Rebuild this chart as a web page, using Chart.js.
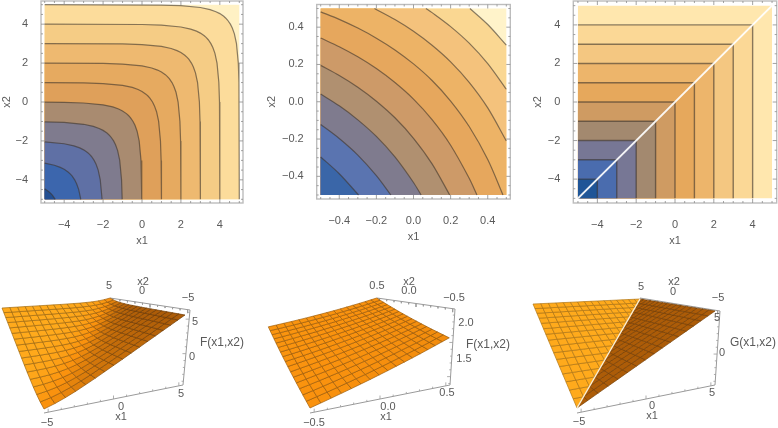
<!DOCTYPE html>
<html><head><meta charset="utf-8">
<style>
html,body{margin:0;padding:0;background:#fff;width:778px;height:428px;overflow:hidden}
canvas{position:absolute;filter:blur(0.45px)}
</style>
<script src="https://cdn.jsdelivr.net/npm/chart.js@4/dist/chart.umd.js"></script>
</head><body>
<script>
// ---------- Contour panel 1: F(x1,x2) on [-5,5]; each list holds x1 values, x2 runs through the same list backwards
const f1Level5 = [-5,1,2,3,3.5,3.8,4,4.2,4.307,4.404,4.541,4.64,4.748,4.855,4.949,4.982,5];
const f1Level4 = [-5,0,1,2,2.5,2.8,3,3.2,3.307,3.404,3.541,3.64,3.748,3.855,3.949,3.982,4];
const f1Level3 = [-5,-1,0,1,1.5,1.8,2,2.2,2.307,2.404,2.541,2.64,2.748,2.855,2.949,2.982,3];
const f1Level2 = [-5,-2,-1,0,.5,.8,1,1.2,1.307,1.404,1.541,1.64,1.748,1.855,1.949,1.982,2];
const f1Level1 = [-5,-3,-2,-1,-.5,-.2,0,.2,.307,.404,.541,.64,.748,.855,.949,.982,1];
const f1Level0 = [-5,-4,-3,-2,-1.5,-1.2,-1,-.8,-.693,-.596,-.459,-.36,-.252,-.145,-.051,-.018,-.007];
const f1LevelM1 = [-5,-4,-3,-2.5,-2.2,-2,-1.8,-1.693,-1.596,-1.459,-1.36,-1.252,-1.145,-1.051,-1.018];
const f1LevelM2 = [-5,-4,-3.5,-3.2,-3,-2.8,-2.693,-2.596,-2.459,-2.36,-2.252,-2.145,-2.051];
const f1LevelM3 = [-5,-4.5,-4.2,-4,-3.8,-3.693,-3.596,-3.459,-3.36,-3.252,-3.145];
const f1LevelM4 = [-5,-4.8,-4.693,-4.596,-4.459];
// ---------- Contour panel 2: F(x1,x2) on [-0.5,0.5]
const f2C1 = [[-.5,-.296],[-.4,-.386],[-.296,-.5]];
const f2C2 = [[-.5,-.122],[-.4,-.197],[-.3,-.286],[-.2,-.396],[-.122,-.5]];
const f2C3 = [[-.5,.041],[-.4,-.022],[-.3,-.097],[-.2,-.186],[-.1,-.296],[0,-.433],[.041,-.5]];
const f2C4 = [[-.5,.195],[-.4,.141],[-.3,.078],[-.2,.003],[-.1,-.086],[0,-.196],[.1,-.333],[.195,-.5]];
const f2C5 = [[-.5,.342],[-.4,.295],[-.3,.241],[-.2,.178],[-.1,.103],[0,.014],[.1,-.096],[.2,-.233],[.3,-.41],[.342,-.5]];
const f2C6 = [[-.5,.482],[-.4,.442],[-.3,.395],[-.2,.341],[-.1,.278],[0,.203],[.1,.114],[.2,.004],[.3,-.133],[.4,-.31],[.482,-.5]];
const f2C7 = [[-.21,.5],[-.1,.441],[0,.378],[.1,.303],[.2,.214],[.3,.104],[.4,-.033],[.5,-.21]];
const f2C8 = [[.067,.5],[.1,.478],[.2,.403],[.3,.314],[.4,.204],[.5,.067]];
const f2C9 = [[.304,.5],[.4,.414],[.5,.304]];
// ---------- Contour panel 3: G(x1,x2), corner of each level line on the diagonal
const gContourLevels = [4,3,2,1,0,-1,-2,-3,-4];
// ---------- Tick labels
const ticksWide = [-4,-2,0,2,4];
const ticksNarrow = [-.4,-.2,0,.2,.4];
const minorWide = [-5,-4.5,-4,-3.5,-3,-2.5,-2,-1.5,-1,-.5,0,.5,1,1.5,2,2.5,3,3.5,4,4.5,5];
const minorNarrow = [-.5,-.45,-.4,-.35,-.3,-.25,-.2,-.15,-.1,-.05,0,.05,.1,.15,.2,.25,.3,.35,.4,.45,.5];
// ---------- Surface grids
const gridWide = [-5,-4.375,-3.75,-3.125,-2.5,-1.875,-1.25,-.625,0,.625,1.25,1.875,2.5,3.125,3.75,4.375,5];
const gridNarrow = [-.5,-.4375,-.375,-.3125,-.25,-.1875,-.125,-.0625,0,.0625,.125,.1875,.25,.3125,.375,.4375,.5];
// Heights: row = grid index of the larger of x1,x2; column = grid index of the smaller
const surfaceF1 = [
[-3.31],
[-2.95,-2.69],
[-2.5,-2.32,-2.06],
[-1.99,-1.88,-1.7,-1.44],
[-1.42,-1.36,-1.25,-1.07,-.81],
[-.84,-.8,-.74,-.63,-.45,-.19],
[-.23,-.21,-.17,-.11,0,.18,.44],
[.39,.4,.42,.46,.52,.63,.81,1.07],
[1,1.01,1.02,1.04,1.08,1.14,1.25,1.43,1.69],
[1.63,1.63,1.64,1.65,1.67,1.71,1.77,1.88,2.06,2.32],
[2.25,2.25,2.25,2.26,2.27,2.29,2.33,2.39,2.5,2.68,2.94],
[2.88,2.88,2.88,2.88,2.89,2.9,2.92,2.96,3.02,3.13,3.31,3.57],
[3.5,3.5,3.5,3.5,3.5,3.51,3.52,3.54,3.58,3.64,3.75,3.93,4.19],
[4.13,4.13,4.13,4.13,4.13,4.13,4.14,4.15,4.17,4.21,4.27,4.38,4.56,4.82],
[4.75,4.75,4.75,4.75,4.75,4.75,4.75,4.76,4.77,4.79,4.83,4.89,5,5.18,5.44],
[5.38,5.38,5.38,5.38,5.38,5.38,5.38,5.38,5.39,5.4,5.42,5.46,5.52,5.63,5.81,6.07],
[6,6,6,6,6,6,6,6,6,6.01,6.02,6.04,6.08,6.14,6.25,6.43,6.69]];
const surfaceF2 = [
[1.193],
[1.225,1.256],
[1.258,1.287,1.318],
[1.292,1.32,1.35,1.381],
[1.326,1.354,1.383,1.412,1.443],
[1.362,1.389,1.417,1.446,1.475,1.506],
[1.398,1.424,1.451,1.479,1.508,1.537,1.568],
[1.436,1.461,1.487,1.514,1.542,1.571,1.6,1.631],
[1.474,1.498,1.523,1.549,1.576,1.604,1.633,1.662,1.693],
[1.514,1.537,1.561,1.586,1.612,1.639,1.667,1.696,1.725,1.756],
[1.554,1.576,1.599,1.623,1.648,1.674,1.701,1.729,1.758,1.787,1.818],
[1.595,1.617,1.639,1.662,1.686,1.711,1.737,1.764,1.792,1.821,1.85,1.881],
[1.637,1.657,1.679,1.701,1.724,1.748,1.773,1.799,1.826,1.854,1.883,1.912,1.943],
[1.68,1.7,1.72,1.742,1.764,1.787,1.811,1.836,1.862,1.889,1.917,1.946,1.975,2.006],
[1.724,1.742,1.762,1.782,1.804,1.826,1.849,1.873,1.898,1.924,1.951,1.979,2.008,2.037,2.068],
[1.769,1.787,1.805,1.825,1.845,1.867,1.889,1.912,1.936,1.961,1.987,2.014,2.042,2.071,2.1,2.131],
[1.813,1.831,1.849,1.867,1.887,1.907,1.929,1.951,1.974,1.998,2.023,2.049,2.076,2.104,2.133,2.162,2.193]];
const surfaceG = [-5,-4.375,-3.75,-3.125,-2.5,-1.875,-1.25,-.625,0,.625,1.25,1.875,2.5,3.125,3.75,4.375,5];

// ---------- Styling
const FONT = '"Liberation Sans", Arial, sans-serif';
const TEXT = '#5a5a5a';
const LINE = 'rgba(60,52,44,.6)';
const bandsF1 = ['#fff1c4','#fcdc9b','#f5cc85','#eeb970','#e6aa60','#dfa05a','#a98b70','#7f7b8e','#5f70a5','#3c66ad','#234f93'];
const bandsF2 = ['#fff3ca','#fad792','#f4c27c','#edb366','#e6a75d','#cd9a68','#b09070','#7f7b8e','#5a74b0','#3a66a8'];
const bandsG  = ['#ffe7ae','#fbd896','#f4c781','#edb56b','#e6a85c','#cf9b62','#a3896f','#777795','#4a6cae','#1f5597'];
const minusFmt = v => String(v).replace('-', '\u2212');

const pts = a => a.map(p => ({x:p[0], y:p[1]}));
const mirrored = xs => xs.map((x,i) => ({x, y:xs[xs.length-1-i]}));
const fillSet = (data,color) => ({data, showLine:true, fill:'shape', backgroundColor:color, borderWidth:0, pointRadius:0, tension:0});
const lineSet = (data,color,w,t) => ({data, showLine:true, fill:false, borderColor:color, borderWidth:w, pointRadius:0, tension:t||0});

const framePlugin = {
  id:'frameMarks',
  afterDatasetsDraw(ch){
    const o = ch.options.plugins.frameMarks, a = ch.chartArea, c = ch.ctx, sx = ch.scales.x, sy = ch.scales.y;
    c.save();
    c.strokeStyle = '#bdbdbd'; c.lineWidth = 1.4;
    c.strokeRect(a.left,a.top,a.right-a.left,a.bottom-a.top);
    c.strokeStyle = '#8c8c8c'; c.lineWidth = .8;
    const isMajor = v => o.major.some(m => Math.abs(m-v) < 1e-6);
    c.beginPath();
    o.minor.forEach(v=>{
      const L = isMajor(v) ? 4 : 2, px = sx.getPixelForValue(v), py = sy.getPixelForValue(v);
      c.moveTo(px,a.bottom); c.lineTo(px,a.bottom-L);
      c.moveTo(px,a.top); c.lineTo(px,a.top+L);
      c.moveTo(a.left,py); c.lineTo(a.left+L,py);
      c.moveTo(a.right,py); c.lineTo(a.right-L,py);
    });
    c.stroke(); c.restore();
  }
};

function makeCanvas(left,top,w,h){
  const cv = document.createElement('canvas');
  cv.width = w; cv.height = h;
  cv.style.left = left+'px'; cv.style.top = top+'px';
  cv.style.width = w+'px'; cv.style.height = h+'px';
  document.body.appendChild(cv);
  return cv;
}

function contourChart(cfg){
  const cv = makeCanvas(cfg.left,0,cfg.w,cfg.h);
  const axisBase = (vals,fmt,title,isX) => ({
    type:'linear', min:-cfg.pad, max:cfg.pad,
    grid:{display:false}, border:{display:false},
    afterBuildTicks(ax){ ax.ticks = vals.map(v=>({value:v})); },
    afterFit(ax){
      if(isX) ax.height = cfg.h-cfg.frame.bottom; else ax.width = cfg.frame.left-cfg.left;
      ax.paddingTop = 0; ax.paddingBottom = 0; ax.paddingLeft = 0; ax.paddingRight = 0;
    },
    ticks:{autoSkip:false,maxRotation:0,color:TEXT,font:{family:FONT,size:11},padding:isX?7:5,callback:fmt},
    title:{display:true,text:title,color:TEXT,font:{family:FONT,size:11},padding:isX?{top:0,bottom:2.5}:{top:0,bottom:0}}
  });
  new Chart(cv,{
    type:'scatter',
    data:{datasets:cfg.sets.slice().reverse()},
    options:{
      responsive:false,animation:false,events:[],
      layout:{padding:{top:cfg.frame.top,right:cfg.left+cfg.w-cfg.frame.right,left:0,bottom:0}},
      plugins:{legend:{display:false},tooltip:{enabled:false},frameMarks:{major:cfg.major,minor:cfg.minor}},
      scales:{x:axisBase(cfg.major,cfg.fmt,'x1',true),y:axisBase(cfg.major,cfg.fmt,'x2',false)}
    },
    plugins:[framePlugin]
  });
}

// --- panel 1
(function(){
  const levels = [f1Level5,f1Level4,f1Level3,f1Level2,f1Level1,f1Level0,f1LevelM1,f1LevelM2,f1LevelM3,f1LevelM4].map(mirrored);
  const sets = [fillSet(pts([[-5,-5],[-5,5],[5,5],[5,-5]]),bandsF1[0])];
  levels.forEach((l,i)=>sets.push(fillSet(l.concat([{x:-5,y:-5}]),bandsF1[i+1])));
  levels.forEach(l=>sets.push(lineSet(l,LINE,1.2)));
  contourChart({left:0,w:258,h:250,pad:5.19,frame:{left:41,right:243,top:1,bottom:203},major:ticksWide,minor:minorWide,fmt:minusFmt,sets});
})();
// --- panel 2
(function(){
  const lines = [f2C9,f2C8,f2C7,f2C6,f2C5,f2C4,f2C3,f2C2,f2C1].map(pts);
  const sets = [fillSet(pts([[-.5,-.5],[-.5,.5],[.5,.5],[.5,-.5]]),bandsF2[0])];
  lines.forEach((l,i)=>{
    const close = i<3 ? pts([[.5,-.5],[-.5,-.5],[-.5,.5]]) : pts([[-.5,-.5]]);
    sets.push(fillSet(l.concat(close),bandsF2[i+1]));
  });
  lines.forEach(l=>sets.push(lineSet(l,LINE,1.2,.3)));
  contourChart({left:265,w:255,h:246,pad:.5215,frame:{left:316.7,right:510.3,top:4.5,bottom:199},major:ticksNarrow,minor:minorNarrow,fmt:v=>minusFmt(v.toFixed(1)),sets});
})();
// --- panel 3
(function(){
  const lines = gContourLevels.map(c=>pts([[-5,c],[c,c],[c,-5]]));
  const sets = [fillSet(pts([[-5,-5],[-5,5],[5,5],[5,-5]]),bandsG[0])];
  lines.forEach((l,i)=>sets.push(fillSet(l.concat([{x:-5,y:-5}]),bandsG[i+1])));
  lines.forEach(l=>sets.push(lineSet(l,LINE,1.4)));
  sets.push(lineSet(pts([[-5,-5],[5,5]]),'rgba(255,255,255,.92)',2));
  contourChart({left:531,w:247,h:250,pad:5.24,frame:{left:573.3,right:776.7,top:1,bottom:203},major:ticksWide,minor:minorWide,fmt:minusFmt,sets});
})();

// ---------- 3D panels
function solve4(M,b){
  const A = M.map((r,i)=>r.concat([b[i]]));
  for(let c=0;c<4;c++){
    let p=c; for(let r=c+1;r<4;r++) if(Math.abs(A[r][c])>Math.abs(A[p][c])) p=r;
    [A[c],A[p]]=[A[p],A[c]];
    for(let r=0;r<4;r++) if(r!==c){const f=A[r][c]/A[c][c]; for(let k=c;k<5;k++) A[r][k]-=f*A[c][k];}
  }
  return A.map((r,i)=>r[4]/r[i]);
}
function camera(refs,depth,lo,hi,zlo,zhi){
  const d=(a,b,z)=>1+depth[0]*(a-lo)/(hi-lo)+depth[1]*(b-lo)/(hi-lo)+depth[2]*(z-zlo)/(zhi-zlo);
  const M=refs.map(r=>[1,r[0],r[1],r[2]]);
  const cx=solve4(M,refs.map(r=>r[3]*d(r[0],r[1],r[2])));
  const cy=solve4(M,refs.map(r=>r[4]*d(r[0],r[1],r[2])));
  return (a,b,z)=>{const w=d(a,b,z);return {x:(cx[0]+cx[1]*a+cx[2]*b+cx[3]*z)/w,y:(cy[0]+cy[1]*a+cy[2]*b+cy[3]*z)/w};};
}
function shade(s){
  const A=[255,170,28],B=[250,146,14],C=[172,92,8];
  return s<.5?A.map((v,i)=>v+(B[i]-v)*s*2):B.map((v,i)=>v+(C[i]-v)*(s-.5)*2);
}
const rgb=(m,k,a)=>`rgba(${m.map(v=>Math.round(v*k)).join(',')},${a})`;

const text3dPlugin={
  id:'text3d',
  afterDraw(ch){
    const o=ch.options.plugins.text3d,c=ch.ctx,sx=ch.scales.x,sy=ch.scales.y;
    c.save();c.fillStyle=TEXT;c.textAlign='center';c.textBaseline='middle';
    o.items.forEach(t=>{c.font=`${t[3]||11}px ${FONT}`;c.fillText(t[0],sx.getPixelForValue(t[1]),sy.getPixelForValue(t[2]));});
    c.restore();
  }
};

function surfaceChart(cfg){
  const cv=makeCanvas(cfg.left,270,cfg.w,158);
  const sets=[];
  cfg.box.forEach(e=>{
    sets.push(lineSet(pts([e.from,e.to]),'#9a9a9a',1));
    e.ticks.forEach(t=>{
      const f=t[0],L=t[1]?3.5:1.8;
      const x=e.from[0]+(e.to[0]-e.from[0])*f,y=e.from[1]+(e.to[1]-e.from[1])*f;
      sets.push(lineSet(pts([[x,y],[x+e.dir[0]*L,y+e.dir[1]*L]]),'#9a9a9a',.8));
    });
  });
  const g=cfg.grid,P=cfg.project,z=cfg.height;
  const pushCell=(corners,s)=>{
    const m=shade(s);
    const d=corners.map(n=>P(g[n[0]],g[n[1]],z(n[0],n[1])));
    sets.push({data:d,showLine:true,fill:'shape',backgroundColor:rgb(m,1,1),borderColor:rgb(m,cfg.meshK,.9),borderWidth:.75,pointRadius:0,tension:0});
    sets.push(lineSet([d[d.length-1],d[0]],rgb(m,cfg.meshK,.9),.75));
  };
  for(let j=0;j<16;j++)for(let i=0;i<16;i++){
    if(cfg.split&&i===j){
      pushCell([[i,j],[i+1,j],[i+1,j+1]],1);
      pushCell([[i,j],[i+1,j+1],[i,j+1]],0);
      continue;
    }
    const dx=(z(i+1,j)+z(i+1,j+1)-z(i,j)-z(i,j+1))/2,dy=(z(i,j+1)+z(i+1,j+1)-z(i,j)-z(i+1,j))/2;
    let s=dx/(dx+dy);
    if(cfg.gain) s=.5+(s-.5)*cfg.gain;
    if(cfg.ramp&&s>.5) s=.5+(s-.5)*(.35+.65*i/15);
    pushCell([[i,j],[i+1,j],[i+1,j+1],[i,j+1]],s);
  }
  if(cfg.split){
    sets.push(lineSet([P(g[0],g[0],z(0,0)),P(g[16],g[16],z(16,16))],'rgba(255,246,225,.95)',1.4));
  }
  new Chart(cv,{
    type:'scatter',
    data:{datasets:sets.reverse()},
    options:{
      responsive:false,animation:false,events:[],
      layout:{padding:0},
      plugins:{legend:{display:false},tooltip:{enabled:false},text3d:{items:cfg.labels}},
      scales:{
        x:{type:'linear',display:false,min:cfg.left,max:cfg.left+cfg.w},
        y:{type:'linear',display:false,min:270,max:428,reverse:true}
      }
    },
    plugins:[text3dPlugin]
  });
}
const rowsLookup=t=>(i,j)=>t[Math.max(i,j)][Math.min(i,j)];
const unitTicks=(f0,step,n,majorEvery,first)=>{const out=[];for(let k=0;k<n;k++)out.push([f0+step*k,(k-first)%majorEvery===0]);return out;};
const view=[.27,.46,0];

surfaceChart({
  left:0,w:260,grid:gridWide,height:rowsLookup(surfaceF1),meshK:.62,ramp:true,
  project:camera([[-5,-5,-3.31,44,409],[5,-5,6,185,315],[5,5,6.69,110,298],[-5,5,6,2,308]],view,-5,5,-4,7),
  box:[
    {from:[44,413],to:[183,385],dir:[0,-1],ticks:unitTicks(.03,.094,11,5,0)},
    {from:[183,385],to:[190,310],dir:[-1,0],ticks:unitTicks(.05,.092,11,5,4)},
    {from:[190,310],to:[110,298],dir:[0,1],ticks:unitTicks(.03,.094,11,5,0)}
  ],
  labels:[['5',109,286],['x2',143,282],['0',142,291],['\u22125',188,298],['5',195,322],['F(x1,x2)',222,343,12],['0',192,357],['5',181,394],['0',121,407],['x1',121,417],['\u22125',47,423]]
});
surfaceChart({
  left:260,w:260,grid:gridNarrow,height:rowsLookup(surfaceF2),meshK:.62,gain:.25,
  project:camera([[-.5,-.5,1.193,310,408],[.5,-.5,1.81,449.3,338],[.5,.5,2.193,376.7,298],[-.5,.5,1.81,268.3,327]],view,-.5,.5,1.1,2.3),
  box:[
    {from:[310,413],to:[450,385],dir:[0,-1],ticks:unitTicks(.03,.094,11,5,0)},
    {from:[450,385],to:[455,309],dir:[-1,0],ticks:unitTicks(.02,.09,11,5,1)},
    {from:[455,309],to:[377,298],dir:[0,1],ticks:unitTicks(.03,.094,11,5,0)}
  ],
  labels:[['0.5',377,286],['x2',409,282],['0.0',409,291],['\u22120.5',454,298],['2.0',466,323],['F(x1,x2)',488,345,12],['1.5',464,359],['0.5',447,393],['0.0',388,407],['x1',386,417],['\u22120.5',314,423]]
});
surfaceChart({
  left:520,w:258,grid:gridWide,height:(i,j)=>surfaceG[Math.max(i,j)],meshK:.68,split:true,
  project:camera([[-5,-5,-5,577,408],[5,-5,5,715,311],[5,5,5,640,299],[-5,5,5,533,304]],view,-5,5,-5,5),
  box:[
    {from:[577,413],to:[715,385],dir:[0,-1],ticks:unitTicks(.03,.094,11,5,0)},
    {from:[715,385],to:[720,311],dir:[-1,0],ticks:unitTicks(.05,.092,11,5,4)},
    {from:[720,311],to:[640,298],dir:[0,1],ticks:unitTicks(.03,.094,11,5,0)}
  ],
  labels:[['5',641,287],['x2',674,282],['0',673,292],['\u22125',718,298],['5',717,318],['G(x1,x2)',753,343,12],['0',722,353],['5',712,393],['0',652,406],['x1',652,416],['\u22125',579,422]]
});
</script>
</body></html>
